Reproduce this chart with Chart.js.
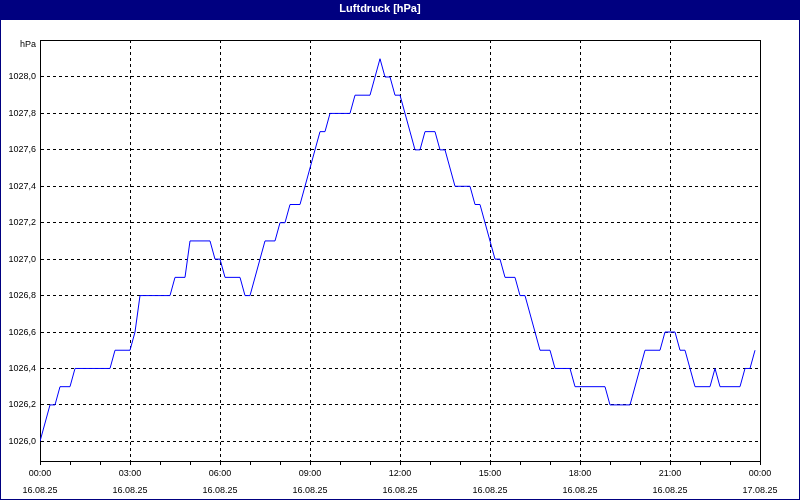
<!DOCTYPE html>
<html>
<head>
<meta charset="utf-8">
<script src="https://cdn.jsdelivr.net/npm/chart.js@4.4.1/dist/chart.umd.min.js"></script>
<style>
  html, body { margin: 0; padding: 0; background: #ffffff; }
  #wrap { position: relative; width: 800px; height: 500px; }
  canvas { display: block; }
</style>
</head>
<body>
<div id="wrap"><canvas id="c" width="800" height="500"></canvas></div>
<script>
// Time of each reading in minutes after 16.08.25 00:00
const timesMin = [0,20,30,40,60,70,140,150,180,190,200,260,270,290,300,340,350,360,370,400,
  410,420,450,470,480,490,500,520,560,570,580,620,630,660,680,690,700,710,720,750,
  760,770,790,800,810,830,860,870,880,910,920,930,950,960,970,1000,1020,1030,1060,1070,
  1130,1140,1180,1210,1240,1250,1270,1280,1290,1310,1340,1350,1360,1400,1410,1420,1430];
// Air pressure in hPa
const pressure = [1026.0,1026.2,1026.2,1026.3,1026.3,1026.4,1026.4,1026.5,1026.5,1026.6,
  1026.8,1026.8,1026.9,1026.9,1027.1,1027.1,1027.0,1027.0,1026.9,1026.9,
  1026.8,1026.8,1027.1,1027.1,1027.2,1027.2,1027.3,1027.3,1027.7,1027.7,
  1027.8,1027.8,1027.9,1027.9,1028.1,1028.0,1028.0,1027.9,1027.9,1027.6,
  1027.6,1027.7,1027.7,1027.6,1027.6,1027.4,1027.4,1027.3,1027.3,1027.0,
  1027.0,1026.9,1026.9,1026.8,1026.8,1026.5,1026.5,1026.4,1026.4,1026.3,
  1026.3,1026.2,1026.2,1026.5,1026.5,1026.6,1026.6,1026.5,1026.5,1026.3,
  1026.3,1026.4,1026.3,1026.3,1026.4,1026.4,1026.5];
// Y tick values
const yTicks = [1026.0,1026.2,1026.4,1026.6,1026.8,1027.0,1027.2,1027.4,1027.6,1027.8,1028.0];
// X tick labels (every 3 hours)
const xTickTimes = ['00:00','03:00','06:00','09:00','12:00','15:00','18:00','21:00','00:00'];
const xTickDates = ['16.08.25','16.08.25','16.08.25','16.08.25','16.08.25','16.08.25','16.08.25','16.08.25','17.08.25'];

const FONT = "'Liberation Sans', Arial, sans-serif";
const NAVY = '#000080';

const points = timesMin.map((t, i) => ({ x: t, y: pressure[i] }));

const decorPlugin = {
  id: 'decor',
  beforeDraw(chart) {
    const ctx = chart.ctx;
    ctx.save();
    ctx.fillStyle = '#ffffff';
    ctx.fillRect(0, 0, chart.width, chart.height);
    ctx.fillStyle = NAVY;
    ctx.fillRect(0, 0, chart.width, 20);
    ctx.restore();
  },
  beforeDatasetsDraw(chart) {
    const ctx = chart.ctx;
    const a = chart.chartArea;
    ctx.save();
    ctx.strokeStyle = '#000000';
    ctx.lineWidth = 1;
    ctx.setLineDash([]);
    ctx.strokeRect(Math.round(a.left) + 0.5, Math.round(a.top) + 0.5,
      Math.round(a.right) - Math.round(a.left), Math.round(a.bottom) - Math.round(a.top));
    ctx.restore();
  },
  afterDraw(chart) {
    const ctx = chart.ctx;
    ctx.save();
    ctx.fillStyle = '#000000';
    ctx.font = "9px " + FONT;
    ctx.textAlign = 'right';
    ctx.textBaseline = 'middle';
    ctx.fillText('hPa', 36, 44.5);
    ctx.strokeStyle = NAVY;
    ctx.lineWidth = 1;
    ctx.strokeRect(0.5, 0.5, chart.width - 1, chart.height - 1);
    ctx.restore();
  }
};

new Chart(document.getElementById('c'), {
  type: 'line',
  data: {
    datasets: [{
      label: 'Luftdruck',
      data: points,
      borderColor: '#0000ff',
      borderWidth: 1,
      pointRadius: 0,
      tension: 0,
      fill: false
    }]
  },
  options: {
    responsive: false,
    animation: false,
    devicePixelRatio: 1,
    layout: { padding: { top: 0, right: 40, bottom: 0, left: 0 } },
    plugins: {
      legend: { display: false },
      tooltip: { enabled: false },
      title: {
        display: true,
        text: 'Luftdruck [hPa]',
        color: '#ffffff',
        font: { family: FONT, size: 11, weight: 'bold', lineHeight: 1.2 },
        padding: { top: 2, bottom: 24.8 }
      }
    },
    scales: {
      x: {
        type: 'linear',
        min: 0,
        max: 1440,
        afterFit(scale) { scale.height = 39; },
        afterBuildTicks(scale) {
          const t = [];
          for (let m = 0; m <= 1440; m += 60) t.push({ value: m });
          scale.ticks = t;
        },
        ticks: {
          autoSkip: false,
          maxRotation: 0,
          minRotation: 0,
          padding: 0.5,
          color: '#000000',
          font: { family: FONT, size: 9, lineHeight: 1.83 },
          callback(v) {
            if (v % 180 !== 0) return '';
            const i = v / 180;
            return [xTickTimes[i], xTickDates[i]];
          }
        },
        grid: {
          color(ctx) { return (ctx.tick && ctx.tick.value % 180 === 0) ? '#000000' : 'rgba(0,0,0,0)'; },
          tickColor: '#000000',
          tickLength: 4,
          lineWidth: 1,
          drawTicks: true
        },
        border: { display: true, color: '#000000', dash: [3, 3] }
      },
      y: {
        type: 'linear',
        min: 1025.892,
        max: 1028.203,
        afterFit(scale) { scale.width = 40; },
        afterBuildTicks(scale) { scale.ticks = yTicks.map(v => ({ value: v })); },
        ticks: {
          padding: 4,
          color: '#000000',
          font: { family: FONT, size: 9 },
          callback(v) { return Number(v).toFixed(1).replace('.', ','); }
        },
        grid: {
          color: '#000000',
          lineWidth: 1,
          drawTicks: false
        },
        border: { display: true, color: '#000000', dash: [3, 3] }
      }
    }
  },
  plugins: [decorPlugin]
});
</script>
</body>
</html>
